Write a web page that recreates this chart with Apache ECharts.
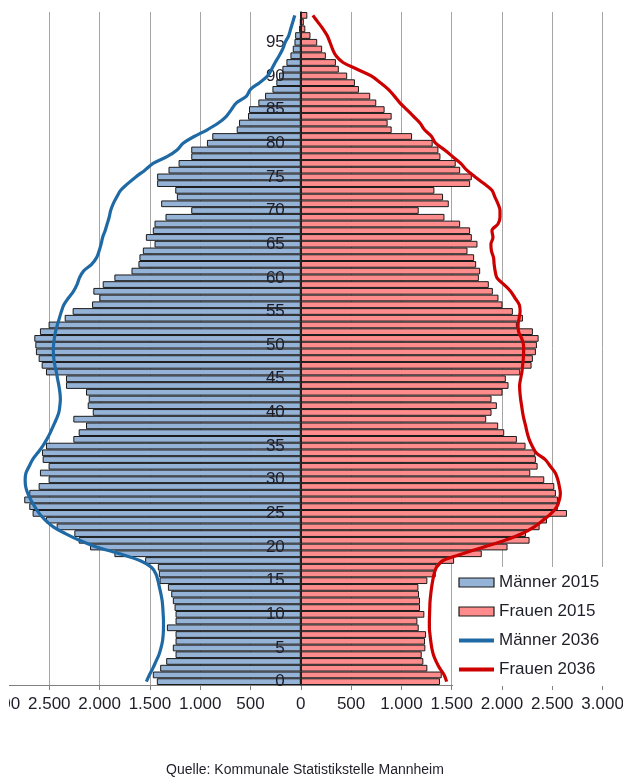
<!DOCTYPE html>
<html>
<head>
<meta charset="utf-8">
<script src="https://cdn.jsdelivr.net/npm/echarts@6/dist/echarts.min.js"></script>
<style>
  html, body { margin: 0; padding: 0; background: #fff; }
  #chart { width: 623px; height: 778px; }
</style>
</head>
<body>
<div id="chart"></div>
<script>
// Ages 0..99 (category axis, bottom to top)
const ages = [];
for (let i = 0; i < 100; i++) ages.push(String(i));

// Tick values of the horizontal axis
const xTicks = [-3000, -2500, -2000, -1500, -1000, -500, 0, 500, 1000, 1500, 2000, 2500, 3000];

// Population 2015, men (age 0 .. 99)
const maenner2015 = [
  1431, 1471, 1398, 1338, 1245, 1272, 1245, 1245, 1331, 1245,
  1245, 1255, 1272, 1288, 1321, 1404, 1411, 1421, 1547, 1853,
  2095, 2208, 2251, 2427, 2533, 2666, 2699, 2749, 2699, 2606,
  2507, 2593, 2507, 2566, 2573, 2533, 2261, 2208, 2135, 2261,
  2068, 2118, 2108, 2135, 2334, 2334, 2533, 2576, 2606, 2633,
  2639, 2649, 2593, 2507, 2347, 2268, 2075, 2002, 2062, 1969,
  1853, 1683, 1614, 1604, 1570, 1454, 1540, 1471, 1454, 1345,
  1089, 1388, 1232, 1248, 1428, 1428, 1315, 1215, 1089, 1089,
  933, 880, 637, 614, 525, 515, 422, 355, 282, 243,
  216, 183, 143, 103, 80, 63, 56, 17, 8, 5
];

// Population 2015, women (age 0 .. 99)
const frauen2015 = [
  1384, 1401, 1258, 1218, 1202, 1238, 1235, 1245, 1172, 1159,
  1228, 1185, 1185, 1175, 1169, 1258, 1341, 1351, 1524, 1799,
  2055, 2274, 2238, 2374, 2447, 2646, 2556, 2556, 2536, 2520,
  2420, 2281, 2354, 2337, 2331, 2234, 2148, 2022, 1962, 1843,
  1896, 1949, 1896, 2005, 2065, 2038, 2181, 2294, 2307, 2337,
  2347, 2364, 2307, 2148, 2208, 2108, 2005, 1965, 1909, 1869,
  1770, 1783, 1743, 1723, 1657, 1756, 1700, 1683, 1584, 1428,
  1172, 1471, 1414, 1328, 1683, 1700, 1584, 1540, 1388, 1368,
  1311, 1106, 903, 863, 903, 833, 750, 690, 578, 538,
  461, 378, 349, 249, 212, 163, 96, 45, 30, 65
];

// Projection 2036, men (age 0 .. 99)
const maenner2036 = [
  1535, 1505, 1470, 1440, 1410, 1390, 1375, 1368, 1365, 1365,
  1368, 1372, 1378, 1390, 1405, 1420, 1440, 1485, 1600, 1800,
  2030, 2200, 2340, 2460, 2540, 2600, 2645, 2683, 2715, 2735,
  2740, 2732, 2700, 2666, 2615, 2566, 2525, 2490, 2460, 2430,
  2405, 2395, 2390, 2395, 2405, 2418, 2430, 2445, 2455, 2460,
  2458, 2450, 2438, 2420, 2400, 2380, 2355, 2310, 2260, 2225,
  2200, 2160, 2080, 2030, 2005, 1985, 1970, 1945, 1925, 1905,
  1890, 1865, 1830, 1790, 1720, 1640, 1550, 1468, 1330, 1230,
  1170, 1060, 930, 820, 740, 690, 640, 540, 500, 410,
  330, 290, 255, 215, 180, 155, 120, 100, 80, 60
];

// Projection 2036, women (age 0 .. 99)
const frauen2036 = [
  1450, 1425, 1380, 1345, 1318, 1302, 1292, 1284, 1278, 1278,
  1280, 1282, 1285, 1292, 1300, 1311, 1325, 1350, 1415, 1610,
  1820, 2030, 2200, 2320, 2410, 2490, 2546, 2570, 2580, 2570,
  2555, 2530, 2480, 2430, 2340, 2300, 2270, 2250, 2235, 2218,
  2205, 2195, 2185, 2178, 2175, 2185, 2198, 2205, 2212, 2215,
  2214, 2195, 2165, 2160, 2170, 2180, 2172, 2130, 2085, 2020,
  1950, 1932, 1922, 1916, 1895, 1890, 1910, 1900, 1960, 1980,
  1980, 1960, 1930, 1900, 1820, 1733, 1650, 1590, 1510, 1430,
  1340, 1300, 1230, 1185, 1120, 1053, 985, 930, 870, 790,
  700, 560, 420, 350, 315, 290, 262, 220, 170, 120
];

const seriesNames = ['Männer 2015', 'Frauen 2015', 'Männer 2036', 'Frauen 2036'];
const sourceText = 'Quelle: Kommunale Statistikstelle Mannheim';

const FONT = '"Liberation Sans", Arial, sans-serif';
const TXT = '#1e1e28';

const GRID_LEFT = -1;
const GRID_WIDTH = 603.6;
const ZERO_X = GRID_LEFT + GRID_WIDTH / 2;

function fmt(v) {
  return String(Math.abs(v)).replace(/\B(?=(\d{3})+(?!\d))/g, '.');
}

const chart = echarts.init(document.getElementById('chart'), null, { renderer: 'canvas' });

chart.setOption({
  animation: false,
  backgroundColor: '#ffffff',
  textStyle: { fontFamily: FONT },
  grid: {
    left: GRID_LEFT, width: GRID_WIDTH, top: 12, bottom: 93,
    containLabel: false,
    outerBoundsMode: 'none'
  },
  xAxis: {
    type: 'value',
    min: xTicks[0],
    max: xTicks[xTicks.length - 1],
    interval: 500,
    axisLine: { show: true, onZero: false, lineStyle: { color: '#7f7f7f', width: 1 } },
    axisTick: { show: true, length: 5, inside: false, lineStyle: { color: '#7f7f7f' } },
    axisLabel: {
      show: true, showMinLabel: true, showMaxLabel: true,
      margin: 11, fontSize: 17, color: TXT, fontFamily: FONT,
      formatter: fmt
    },
    splitLine: { show: true, lineStyle: { color: '#a6a6a6', width: 1 } }
  },
  yAxis: {
    type: 'category',
    data: ages,
    z: 5,
    position: 'left',
    offset: -(ZERO_X - GRID_LEFT),
    axisLine: { show: true, onZero: false, lineStyle: { color: '#1a1a1a', width: 1.5 } },
    axisTick: { show: false },
    axisLabel: {
      show: true,
      interval: function (i) { return i % 5 === 0; },
      margin: 16, fontSize: 17, color: TXT, fontFamily: FONT
    },
    splitLine: { show: false }
  },
  legend: {
    orient: 'vertical',
    left: 453, top: 567,
    padding: [7, 4, 8, 4],
    backgroundColor: '#ffffff',
    itemWidth: 35, itemHeight: 9, itemGap: 12,
    textStyle: { fontSize: 17, color: TXT, fontFamily: FONT, lineHeight: 17 },
    data: [
      { name: seriesNames[0], icon: 'rect', itemStyle: { color: '#95b3d7', borderColor: '#1a1a1a', borderWidth: 1.2 } },
      { name: seriesNames[1], icon: 'rect', itemStyle: { color: '#ff8c8c', borderColor: '#1a1a1a', borderWidth: 1.2 } },
      { name: seriesNames[2], itemStyle: { opacity: 0, borderWidth: 0 }, lineStyle: { width: 4 } },
      { name: seriesNames[3], itemStyle: { opacity: 0, borderWidth: 0 }, lineStyle: { width: 4 } }
    ]
  },
  series: [
    {
      name: seriesNames[0], type: 'bar',
      data: maenner2015.map(v => -v),
      barCategoryGap: '0%', barGap: '-100%',
      itemStyle: { color: '#95b3d7', borderColor: '#1a1a1a', borderWidth: 1 }
    },
    {
      name: seriesNames[1], type: 'bar',
      data: frauen2015,
      barCategoryGap: '0%', barGap: '-100%',
      itemStyle: { color: '#ff8c8c', borderColor: '#1a1a1a', borderWidth: 1 }
    },
    {
      name: seriesNames[2], type: 'line',
      data: maenner2036.map(v => -v),
      smooth: 0.35, symbol: 'none', z: 6,
      itemStyle: { color: '#1f6aa5' },
      lineStyle: { color: '#1f6aa5', width: 3.2 }
    },
    {
      name: seriesNames[3], type: 'line',
      data: frauen2036,
      smooth: 0.35, symbol: 'none', z: 6,
      itemStyle: { color: '#cc0000' },
      lineStyle: { color: '#cc0000', width: 3.2 }
    }
  ],
  graphic: [
    {
      type: 'rect', left: 0, top: 0, z: 100,
      shape: { x: 0, y: 0, width: 9, height: 778 },
      style: { fill: '#ffffff' }
    },
    {
      type: 'text', z: 100,
      x: 305, y: 770,
      style: {
        text: sourceText, fontSize: 14, fontFamily: FONT, fill: TXT,
        align: 'center', verticalAlign: 'middle'
      }
    }
  ]
});
</script>
</body>
</html>
